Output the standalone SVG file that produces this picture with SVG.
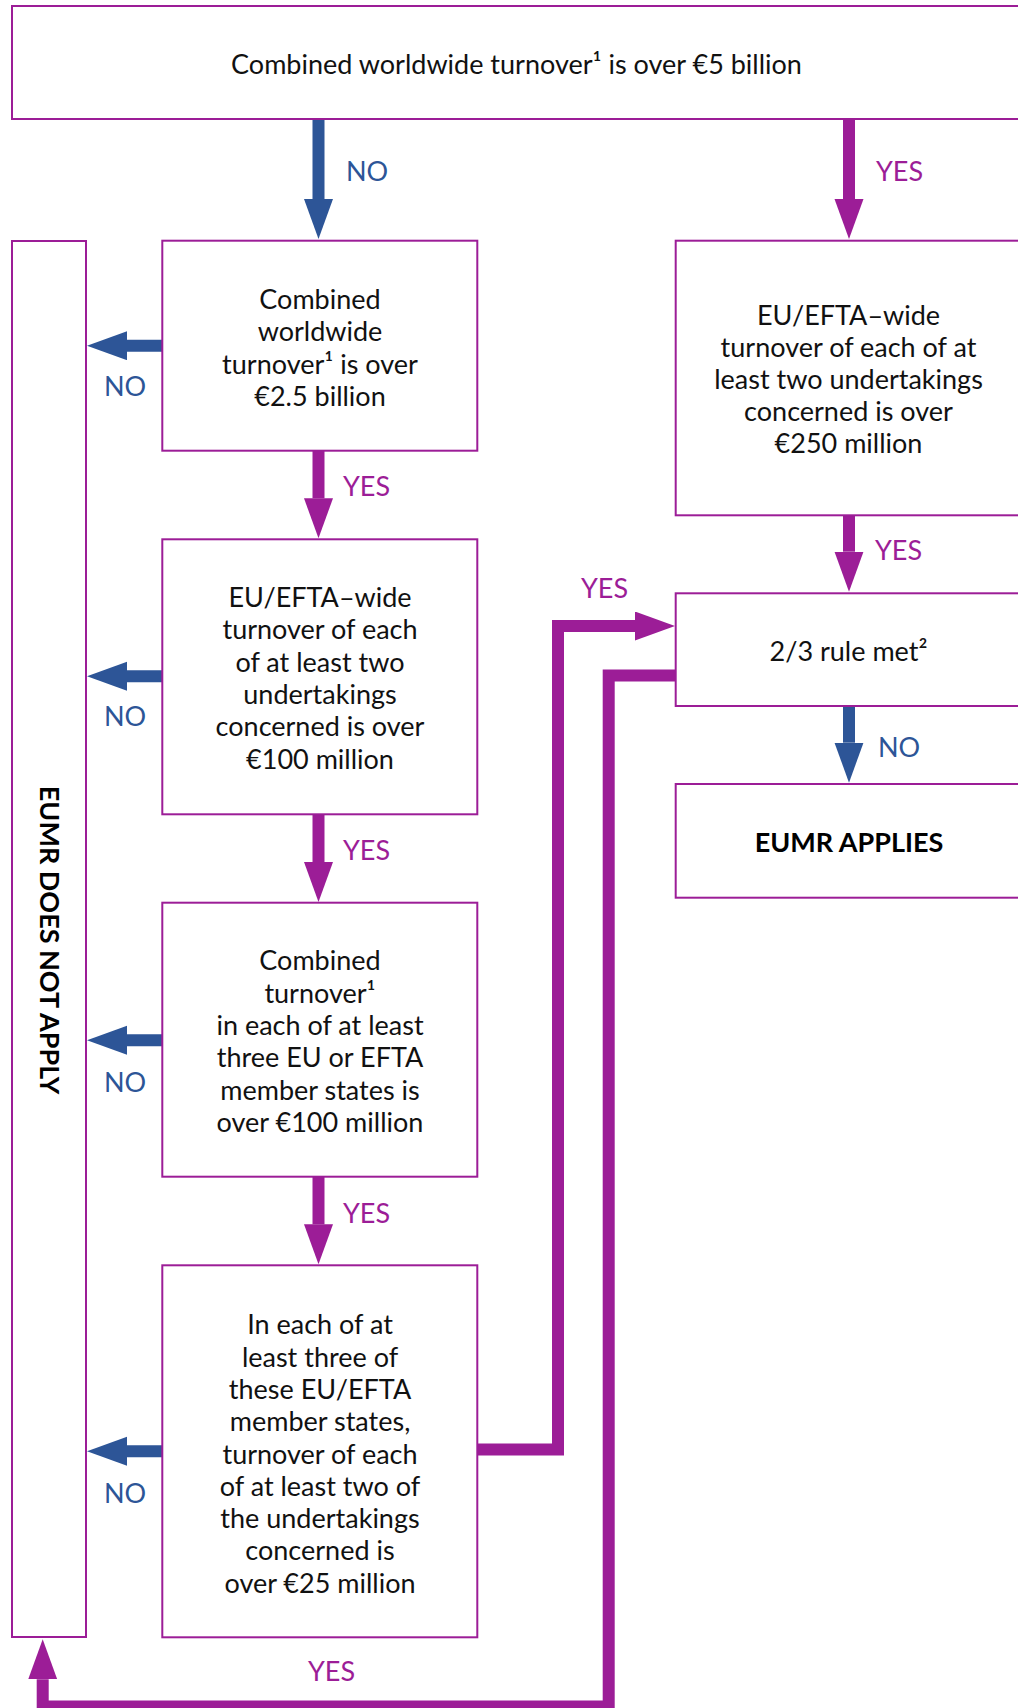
<svg xmlns="http://www.w3.org/2000/svg" width="1018" height="1708" viewBox="0 0 1018 1708">
<style>
.box{fill:#fff;stroke:#9c1d97;stroke-width:2}
.t{font-family:Lato,"Open Sans","Liberation Sans",sans-serif;font-size:27px;fill:#111;text-anchor:middle}
.b{font-family:Lato,"Open Sans","Liberation Sans",sans-serif;font-size:27px;font-weight:bold;fill:#000;text-anchor:middle}
.no{font-family:Lato,"Open Sans","Liberation Sans",sans-serif;font-size:27px;fill:#2d5597}
.yes{font-family:Lato,"Open Sans","Liberation Sans",sans-serif;font-size:27px;fill:#9c1d97}
.pc{fill:none;stroke:#9c1d97;stroke-width:12;stroke-linejoin:miter}
.bc{fill:none;stroke:#2d5597;stroke-width:12}
</style>
<defs>
<marker id="hp" markerUnits="userSpaceOnUse" markerWidth="41" markerHeight="30" refX="0" refY="14.5" orient="auto" viewBox="0 0 41 30">
<path d="M0,0 L40,14.5 L0,29 Z" fill="#9c1d97"/>
</marker>
<marker id="hb" markerUnits="userSpaceOnUse" markerWidth="41" markerHeight="30" refX="0" refY="14.5" orient="auto" viewBox="0 0 41 30">
<path d="M0,0 L40,14.5 L0,29 Z" fill="#2d5597"/>
</marker>
</defs>

<g id="connectors">
<path class="bc" d="M318.5,119 V199" marker-end="url(#hb)"/>
<path class="pc" d="M849,119 V199" marker-end="url(#hp)"/>
<path class="bc" d="M162,345.7 H127" marker-end="url(#hb)"/>
<path class="pc" d="M318.5,450.7 V498.3" marker-end="url(#hp)"/>
<path class="bc" d="M162,676.3 H127" marker-end="url(#hb)"/>
<path class="pc" d="M318.5,814.3 V862" marker-end="url(#hp)"/>
<path class="bc" d="M162,1040.3 H127" marker-end="url(#hb)"/>
<path class="pc" d="M318.5,1176.7 V1224.3" marker-end="url(#hp)"/>
<path class="bc" d="M162,1451.3 H127" marker-end="url(#hb)"/>
<path class="pc" d="M849,515.3 V551.7" marker-end="url(#hp)"/>
<path class="bc" d="M849,706 V742.7" marker-end="url(#hb)"/>
<path class="pc" d="M477,1449.5 H558 V626 H635" marker-end="url(#hp)"/>
<path class="pc" d="M675.7,675.5 H608.7 V1706.5 H42.7 V1679.3" marker-end="url(#hp)"/>
<text class="no" x="346" y="181">NO</text>
<text class="yes" x="876" y="181">YES</text>
<text class="no" x="104" y="396">NO</text>
<text class="yes" x="343" y="496">YES</text>
<text class="no" x="104" y="726">NO</text>
<text class="yes" x="343" y="860">YES</text>
<text class="no" x="104" y="1092">NO</text>
<text class="yes" x="343" y="1223">YES</text>
<text class="no" x="104" y="1503">NO</text>
<text class="yes" x="875" y="560">YES</text>
<text class="no" x="878" y="757">NO</text>
<text class="yes" x="581" y="598">YES</text>
<text class="yes" x="308" y="1681">YES</text>
</g>

<g id="n_top">
<rect class="box" x="12" y="6" width="1009" height="113"/>
<text class="t" x="516.5" y="74">Combined worldwide turnover¹ is over €5 billion</text>
</g>

<g id="n_notapply">
<rect class="box" x="12" y="241" width="74" height="1396"/>
<text class="b" transform="translate(40,940) rotate(90)">EUMR DOES NOT APPLY</text>
</g>

<g id="n_ww25">
<rect class="box" x="162.3" y="240.7" width="315" height="210"/>
<text class="t" x="320" y="309">Combined</text>
<text class="t" x="320" y="341.3">worldwide</text>
<text class="t" x="320" y="373.6">turnover¹ is over</text>
<text class="t" x="320" y="405.9">€2.5 billion</text>
</g>

<g id="n_eu100">
<rect class="box" x="162.3" y="539.3" width="315" height="275"/>
<text class="t" x="320" y="607">EU/EFTA–wide</text>
<text class="t" x="320" y="639.3">turnover of each</text>
<text class="t" x="320" y="671.6">of at least two</text>
<text class="t" x="320" y="703.9">undertakings</text>
<text class="t" x="320" y="736.2">concerned is over</text>
<text class="t" x="320" y="768.5">€100 million</text>
</g>

<g id="n_three100">
<rect class="box" x="162.3" y="902.7" width="315" height="274"/>
<text class="t" x="320" y="970.3">Combined</text>
<text class="t" x="320" y="1002.6">turnover¹</text>
<text class="t" x="320" y="1034.9">in each of at least</text>
<text class="t" x="320" y="1067.2">three EU or EFTA</text>
<text class="t" x="320" y="1099.5">member states is</text>
<text class="t" x="320" y="1131.8">over €100 million</text>
</g>

<g id="n_three25">
<rect class="box" x="162.3" y="1265.3" width="315" height="372"/>
<text class="t" x="320" y="1334.3">In each of at</text>
<text class="t" x="320" y="1366.6">least three of</text>
<text class="t" x="320" y="1398.9">these EU/EFTA</text>
<text class="t" x="320" y="1431.2">member states,</text>
<text class="t" x="320" y="1463.5">turnover of each</text>
<text class="t" x="320" y="1495.8">of at least two of</text>
<text class="t" x="320" y="1528.1">the undertakings</text>
<text class="t" x="320" y="1560.4">concerned is</text>
<text class="t" x="320" y="1592.7">over €25 million</text>
</g>

<g id="n_eu250">
<rect class="box" x="675.7" y="240.7" width="345" height="274.6"/>
<text class="t" x="848.5" y="325">EU/EFTA–wide</text>
<text class="t" x="848.5" y="357.1">turnover of each of at</text>
<text class="t" x="848.5" y="389.2">least two undertakings</text>
<text class="t" x="848.5" y="421.3">concerned is over</text>
<text class="t" x="848.5" y="453.4">€250 million</text>
</g>

<g id="n_twothirds">
<rect class="box" x="675.7" y="593.3" width="345" height="112.7"/>
<text class="t" x="848.5" y="661">2/3 rule met²</text>
</g>

<g id="n_applies">
<rect class="box" x="675.7" y="784" width="345" height="113.7"/>
<text class="b" x="849" y="851.7">EUMR APPLIES</text>
</g>
</svg>
